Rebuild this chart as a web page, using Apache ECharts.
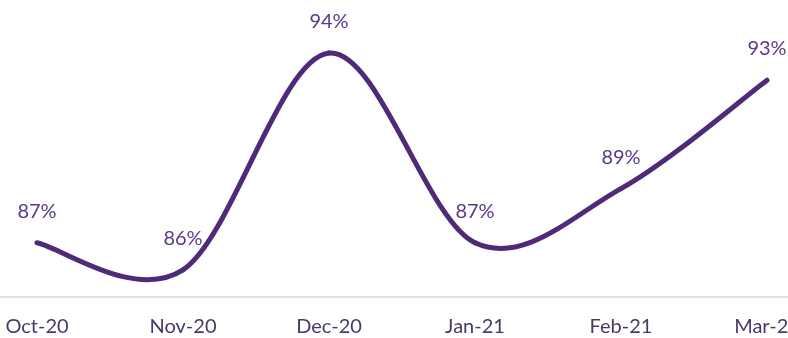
<!DOCTYPE html>
<html>
<head>
<meta charset="utf-8">
<script src="https://cdn.jsdelivr.net/npm/echarts@6/dist/echarts.min.js"></script>
<style>
  html, body { margin: 0; padding: 0; background: #fff; }
  #main { width: 788px; height: 338px; }
</style>
</head>
<body>
<div id="main"></div>
<script>
// data
var months = ['Oct-20', 'Nov-20', 'Dec-20', 'Jan-21', 'Feb-21', 'Mar-21']
var rates = [87, 86, 94, 87, 89, 93]
var yMin = 85
var yMax = 95

var lineColor = '#4e2a78'

// smooth curve like the spreadsheet one (catmull-rom style bezier between points)
function renderSegment (params, api) {
  var i = params.dataIndex
  var n = rates.length
  if (i >= n - 1) return
  var pt = function (k) {
    k = Math.max(0, Math.min(n - 1, k))
    return api.coord([k, rates[k]])
  }
  var p0 = pt(i - 1)
  var p1 = pt(i)
  var p2 = pt(i + 1)
  var p3 = pt(i + 2)
  var t = 1 / 6
  return {
    type: 'bezierCurve',
    shape: {
      x1: p1[0], y1: p1[1],
      x2: p2[0], y2: p2[1],
      cpx1: p1[0] + (p2[0] - p0[0]) * t,
      cpy1: p1[1] + (p2[1] - p0[1]) * t,
      cpx2: p2[0] - (p3[0] - p1[0]) * t,
      cpy2: p2[1] - (p3[1] - p1[1]) * t
    },
    style: { stroke: lineColor, lineWidth: 5, fill: null, lineCap: 'round' }
  }
}

var chart = echarts.init(document.getElementById('main'))
chart.setOption({
  animation: false,
  grid: { left: 37, right: 21, top: 26, bottom: 41, outerBoundsMode: 'none' },
  xAxis: {
    type: 'category',
    data: months,
    boundaryGap: false,
    axisLine: { show: false },
    axisTick: { show: false },
    axisLabel: {
      color: '#4a3868',
      fontFamily: 'Lato',
      fontSize: 20,
      margin: 20,
      interval: 0
    }
  },
  yAxis: {
    type: 'value',
    min: yMin,
    max: yMax,
    show: false
  },
  series: [
    {
      // only carries the value labels
      type: 'line',
      data: rates,
      symbol: 'circle',
      symbolSize: 1,
      itemStyle: { color: lineColor },
      lineStyle: { opacity: 0 },
      z: 1,
      label: {
        show: true,
        position: 'top',
        distance: 21,
        color: '#5a3a86',
        fontFamily: 'Lato',
        fontSize: 20,
        formatter: function (p) { return p.value + '%' }
      }
    },
    {
      type: 'custom',
      data: rates,
      renderItem: renderSegment,
      z: 2
    }
  ]
})

// the base line runs across the whole width in the original
var baseY = chart.convertToPixel({ yAxisIndex: 0 }, yMin)
chart.setOption({
  graphic: [{
    type: 'line',
    shape: { x1: 0, y1: baseY, x2: chart.getWidth(), y2: baseY },
    style: { stroke: '#d9d9d9', lineWidth: 1.5 },
    z: 0
  }]
})
</script>
</body>
</html>
